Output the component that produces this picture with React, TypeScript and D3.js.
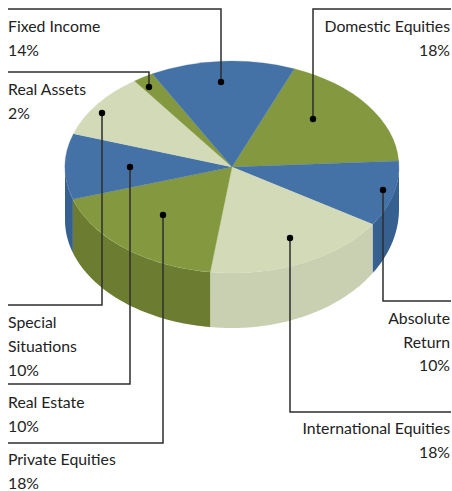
import React from "react";
import * as d3 from "d3";

const categories = ["Domestic Equities", "Absolute Return", "International Equities", "Private Equities", "Real Estate", "Special Situations", "Real Assets", "Fixed Income"];
const values = [18, 10, 18, 18, 10, 10, 2, 14];
const kinds = [1, 0, 2, 1, 0, 2, 1, 0];

const topColors = ["#4472a7", "#84993f", "#d2dab8"];
const wallColors = ["#366090", "#6c7d32", "#c9d0b2"];

const W = 452, H = 491;
const cx = 232, cy = 167, rx = 167, ry = 106;
// lower rim of the drum: its own centre and height on each side
const rimRight = { c: 209, r: 119 };
const rimLeft = { c: 220, r: 108 };
const FONT = "Lato, 'Open Sans', sans-serif";
const FS = 15.8;

// layout of leader lines: dot, elbow y, end x, label lines
const leaders = [
  { i: 0, dot: [313, 119], y: 9, x: 451, anchor: "end", lines: ["Domestic Equities", "18%"], base: 32, lh: 24 },
  { i: 1, dot: [383, 190], y: 301, x: 451, anchor: "end", lines: ["Absolute", "Return", "10%"], base: 324, lh: 23.5 },
  { i: 2, dot: [290, 238], y: 412, x: 451, anchor: "end", lines: ["International Equities", "18%"], base: 434, lh: 24 },
  { i: 3, dot: [163, 215], y: 443, x: 8, anchor: "start", lines: ["Private Equities", "18%"], base: 465, lh: 23.5 },
  { i: 4, dot: [130, 167], y: 384, x: 8, anchor: "start", lines: ["Real Estate", "10%"], base: 408, lh: 23.5 },
  { i: 5, dot: [102, 113], y: 305, x: 8, anchor: "start", lines: ["Special", "Situations", "10%"], base: 328, lh: 24 },
  { i: 6, dot: [149, 87], y: 72, x: 8, anchor: "start", lines: ["Real Assets", "2%"], base: 95, lh: 24 },
  { i: 7, dot: [221, 82], y: 9, x: 8, anchor: "start", lines: ["Fixed Income", "14%"], base: 32, lh: 24 },
];

const start = (21.9 * Math.PI) / 180;
const pie = d3.pie<number>().sort(null).startAngle(start).endAngle(start + 2 * Math.PI);
const arcs = pie(values);
const arcGen = d3.arc<d3.PieArcDatum<number>>().innerRadius(0).outerRadius(rx);

const px = (a: number) => cx + rx * Math.sin(a);
const py = (a: number) => cy - ry * Math.cos(a);
const rimY = (a: number) => {
  const s = a <= Math.PI ? rimRight : rimLeft;
  return s.c - s.r * Math.cos(a);
};

const wall = d3
  .area<number>()
  .x((a) => px(a))
  .y0((a) => py(a))
  .y1((a) => rimY(a));

function wallPath(a0: number, a1: number) {
  const lo = Math.max(a0, Math.PI / 2);
  const hi = Math.min(a1, (3 * Math.PI) / 2);
  const lo2 = Math.max(a0 - 2 * Math.PI, Math.PI / 2);
  const hi2 = Math.min(a1 - 2 * Math.PI, (3 * Math.PI) / 2);
  const [l, h] = hi > lo ? [lo, hi] : [lo2, hi2];
  if (h <= l) return null;
  const n = 60;
  return wall(d3.range(n + 1).map((k) => l + ((h - l) * k) / n));
}

export default function App() {
  return (
    <svg width={W} height={H} style={{ position: "absolute", left: 0, top: 0, display: "block" }}>
      <rect width={W} height={H} fill="#fff" />
      {arcs.map((d, k) => {
        const p = wallPath(d.startAngle, d.endAngle);
        return p ? <path key={k} d={p} fill={wallColors[kinds[k]]} /> : null;
      })}
      <g transform={`translate(${cx},${cy}) scale(1,${ry / rx})`}>
        {arcs.map((d, k) => (
          <path key={k} d={arcGen(d) as string} fill={topColors[kinds[k]]} stroke={topColors[kinds[k]]} strokeWidth={0.3} />
        ))}
      </g>
      {leaders.map((l) => (
        <g key={l.i}>
          <path
            d={d3.line()([
              [l.dot[0], l.dot[1]],
              [l.dot[0], l.y],
              [l.x, l.y],
            ] as [number, number][]) as string}
            fill="none"
            stroke="#2e2e2e"
            strokeWidth={1.5}
          />
          <circle cx={l.dot[0]} cy={l.dot[1]} r={3.2} fill="#000" />
          <text fontFamily={FONT} fontSize={FS} fill="#222" textAnchor={l.anchor as "start" | "end"}>
            {l.lines.map((t, j) => (
              <tspan key={j} x={l.x === 8 ? 8 : 450} y={l.base + j * l.lh}>
                {t}
              </tspan>
            ))}
          </text>
        </g>
      ))}
    </svg>
  );
}
